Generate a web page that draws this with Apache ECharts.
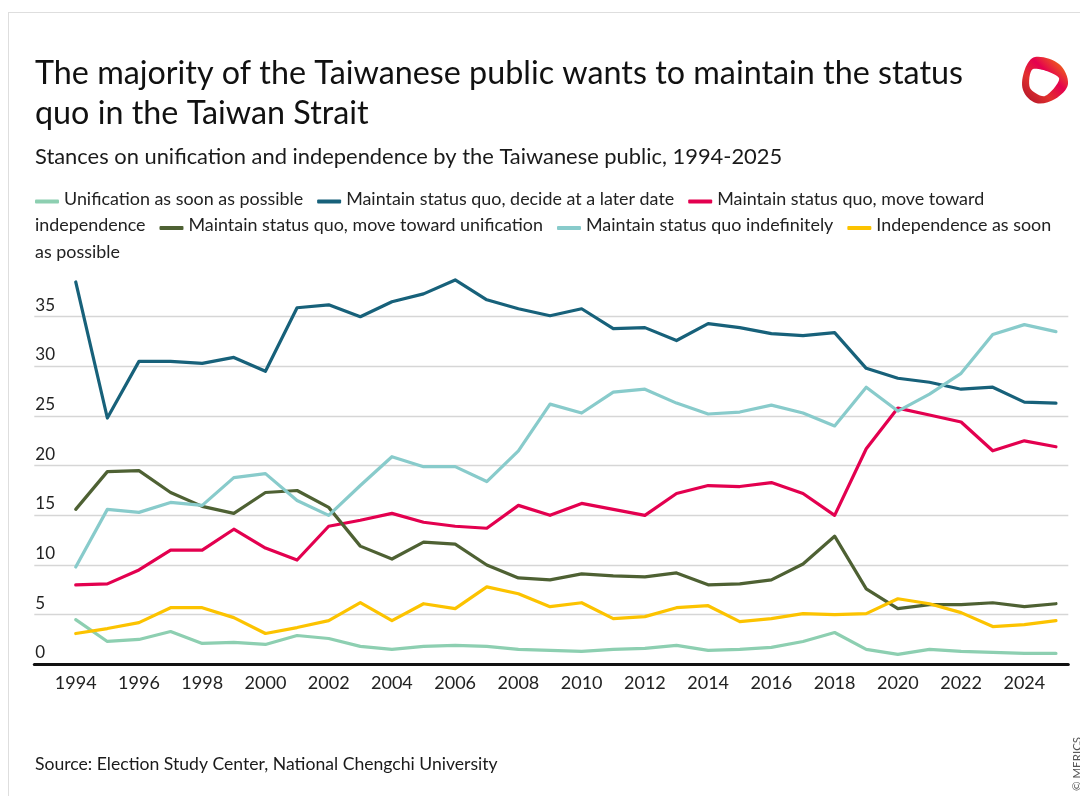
<!DOCTYPE html>
<html>
<head>
<meta charset="utf-8">
<script src="https://cdn.jsdelivr.net/npm/echarts@6/dist/echarts.min.js"></script>
<style>
  html, body { margin: 0; padding: 0; background: #fff; }
  #chart { width: 1080px; height: 796px; }
</style>
</head>
<body>
<div id="chart"></div>
<script>
// Survey years
var years = [1994, 1995, 1996, 1997, 1998, 1999, 2000, 2001, 2002, 2003, 2004,
             2005, 2006, 2007, 2008, 2009, 2010, 2011, 2012, 2013, 2014,
             2015, 2016, 2017, 2018, 2019, 2020, 2021, 2022, 2023, 2024, 2025];

// Share of respondents (%) per stance
var unificationASAP = [4.5, 2.3, 2.5, 3.3, 2.1, 2.2, 2.0, 2.9, 2.6, 1.8, 1.5,
                       1.8, 1.9, 1.8, 1.5, 1.4, 1.3, 1.5, 1.6, 1.9, 1.4,
                       1.5, 1.7, 2.3, 3.2, 1.5, 1.0, 1.5, 1.3, 1.2, 1.1, 1.1];
var decideLater = [38.5, 24.8, 30.5, 30.5, 30.3, 30.9, 29.5, 35.9, 36.2, 35.0, 36.5,
                   37.3, 38.7, 36.7, 35.8, 35.1, 35.8, 33.8, 33.9, 32.6, 34.3,
                   33.9, 33.3, 33.1, 33.4, 29.8, 28.8, 28.4, 27.7, 27.9, 26.4, 26.3];
var towardIndependence = [8.0, 8.1, 9.5, 11.5, 11.5, 13.6, 11.7, 10.5, 13.9, 14.5, 15.2,
                          14.3, 13.9, 13.7, 16.0, 15.0, 16.2, 15.6, 15.0, 17.2, 18.0,
                          17.9, 18.3, 17.2, 15.0, 21.7, 25.8, 25.1, 24.4, 21.5, 22.5, 21.9];
var towardUnification = [15.6, 19.4, 19.5, 17.3, 15.9, 15.2, 17.3, 17.5, 15.8, 11.9, 10.6,
                         12.3, 12.1, 10.0, 8.7, 8.5, 9.1, 8.9, 8.8, 9.2, 8.0,
                         8.1, 8.5, 10.1, 12.9, 7.6, 5.6, 6.0, 6.0, 6.2, 5.8, 6.1];
var indefinitely = [9.8, 15.6, 15.3, 16.3, 16.0, 18.8, 19.2, 16.5, 15.0, 18.0, 20.9,
                    19.9, 19.9, 18.4, 21.5, 26.2, 25.3, 27.4, 27.7, 26.3, 25.2,
                    25.4, 26.1, 25.3, 24.0, 27.9, 25.5, 27.2, 29.3, 33.2, 34.2, 33.5];
var independenceASAP = [3.1, 3.6, 4.2, 5.7, 5.7, 4.7, 3.1, 3.7, 4.4, 6.2, 4.4,
                        6.1, 5.6, 7.8, 7.1, 5.8, 6.2, 4.6, 4.8, 5.7, 5.9,
                        4.3, 4.6, 5.1, 5.0, 5.1, 6.6, 6.1, 5.2, 3.8, 4.0, 4.4];

var seriesNames = [
  'Unification as soon as possible',
  'Maintain status quo, decide at a later date',
  'Maintain status quo, move toward independence',
  'Maintain status quo, move toward unification',
  'Maintain status quo indefinitely',
  'Independence as soon as possible'
];
var seriesValues = [unificationASAP, decideLater, towardIndependence,
                    towardUnification, indefinitely, independenceASAP];
var seriesColors = ['#8dcfb1', '#17617a', '#e3004f', '#4e6133', '#88cbcb', '#fcc300'];

var xTickYears = [1994, 1996, 1998, 2000, 2002, 2004, 2006, 2008, 2010, 2012,
                  2014, 2016, 2018, 2020, 2022, 2024];

var titleText = 'The majority of the Taiwanese public wants to maintain the status\nquo in the Taiwan Strait';
var subtitleText = 'Stances on unification and independence by the Taiwanese public, 1994-2025';
var sourceText = 'Source: Election Study Center, National Chengchi University';
var creditText = '\u00a9 MERICS';

var FONT = 'Lato, "Noto Sans", sans-serif';

// Inline, word-wrapped legend: a colour bar followed by the series name
function buildLegend() {
  var ctx = document.createElement('canvas').getContext('2d');
  var size = 17.9;
  ctx.font = size + 'px Lato';
  var space = ctx.measureText(' ').width;
  var left = 35, right = 1058, top = 199, rowGap = 26.5;
  var iconW = 24, iconGap = 5, itemGap = 14;
  var x = left, row = 0;
  var els = [];
  seriesNames.forEach(function (name, i) {
    var words = name.split(' ');
    words.forEach(function (w, j) {
      var ww = ctx.measureText(w).width;
      var lead;
      if (j === 0) lead = (i === 0 ? 0 : itemGap) + iconW + iconGap;
      else lead = space;
      if (x + lead + ww > right && x > left) {
        row++; x = left;
        lead = (j === 0) ? iconW + iconGap : 0;
      }
      var cy = top + row * rowGap;
      if (j === 0) {
        var ix = x + (lead - iconW - iconGap);
        els.push({
          type: 'rect', silent: true,
          shape: { x: ix, y: cy + 0.5, width: iconW, height: 4, r: 1 },
          style: { fill: seriesColors[i] }
        });
      }
      x += lead;
      els.push({
        type: 'text', silent: true, x: x, y: cy,
        style: { text: w, font: size + 'px ' + FONT, fill: '#222',
                 textVerticalAlign: 'middle', textAlign: 'left' }
      });
      x += ww;
    });
  });
  return els;
}

var chart = echarts.init(document.getElementById('chart'), null, { renderer: 'canvas' });

var graphics = [
  // frame
  { type: 'line', silent: true, shape: { x1: 8.5, y1: 12, x2: 8.5, y2: 796 },
    style: { stroke: '#dedede', lineWidth: 1 } },
  { type: 'line', silent: true, shape: { x1: 8, y1: 12.5, x2: 1080, y2: 12.5 },
    style: { stroke: '#dedede', lineWidth: 1 } },
  // title and subtitle
  { type: 'text', silent: true, x: 35, y: 54,
    style: { text: titleText, font: '32.3px ' + FONT, lineHeight: 40, fill: '#111',
             textVerticalAlign: 'top' } },
  { type: 'text', silent: true, x: 35, y: 157,
    style: { text: subtitleText, font: '21.9px ' + FONT, fill: '#1a1a1a',
             textVerticalAlign: 'middle' } },
  // source line
  { type: 'text', silent: true, x: 35, y: 764,
    style: { text: sourceText, font: '17.6px ' + FONT, fill: '#1a1a1a',
             textVerticalAlign: 'middle' } },
  // credit, running upwards along the right edge
  { type: 'text', silent: true, x: 1077, y: 764, rotation: Math.PI / 2,
    style: { text: creditText, font: '11.5px ' + FONT, fill: '#555',
             textAlign: 'center', textVerticalAlign: 'middle' } },
  // logo mark: rounded ring with a warm gradient
  { type: 'polygon', silent: true,
    shape: { points: [[1035, 57], [1059, 64], [1068, 84], [1055, 99], [1036, 103],
                      [1023, 90], [1025, 69]], smooth: 0.35 },
    style: { fill: new echarts.graphic.LinearGradient(0, 1, 1, 0, [
      { offset: 0, color: '#a8112b' }, { offset: 0.35, color: '#e2302d' },
      { offset: 0.6, color: '#e5004f' }, { offset: 1, color: '#f39200' }]) } },
  { type: 'polygon', silent: true,
    shape: { points: [[1033, 69], [1059, 78], [1045, 96], [1030, 88]], smooth: 0.3 },
    style: { fill: '#ffffff' } }
].concat(buildLegend());

var option = {
  backgroundColor: '#ffffff',
  animation: false,
  textStyle: { fontFamily: FONT },
  grid: { left: 34.3, right: 11.7, top: 316.7, bottom: 131.7, containLabel: false },
  xAxis: {
    type: 'value',
    min: 1992.69,
    max: 2025.39,
    axisLine: { show: true, onZero: false, lineStyle: { color: '#111', width: 3 } },
    axisTick: { show: false },
    splitLine: { show: false },
    axisLabel: {
      customValues: xTickYears,
      formatter: function (v) { return String(v); },
      fontSize: 18, color: '#222', margin: 10, fontFamily: FONT
    }
  },
  yAxis: {
    type: 'value',
    min: 0, max: 35, interval: 5,
    axisLine: { show: false },
    axisTick: { show: false },
    splitLine: { show: true, lineStyle: { color: '#d6d6d6', width: 1.3 } },
    axisLabel: {
      inside: true, margin: 1, align: 'left', verticalAlign: 'bottom',
      padding: [0, 0, 3, 0],
      fontSize: 17, color: '#222', fontFamily: FONT
    }
  },
  series: seriesNames.map(function (name, i) {
    return {
      name: name,
      type: 'line',
      data: years.map(function (y, k) { return [y, seriesValues[i][k]]; }),
      showSymbol: false,
      symbol: 'none',
      clip: false,
      z: 3,
      lineStyle: { color: seriesColors[i], width: 3.2, join: 'round', cap: 'round' },
      itemStyle: { color: seriesColors[i] }
    };
  }),
  graphic: graphics
};

chart.setOption(option);
</script>
</body>
</html>
